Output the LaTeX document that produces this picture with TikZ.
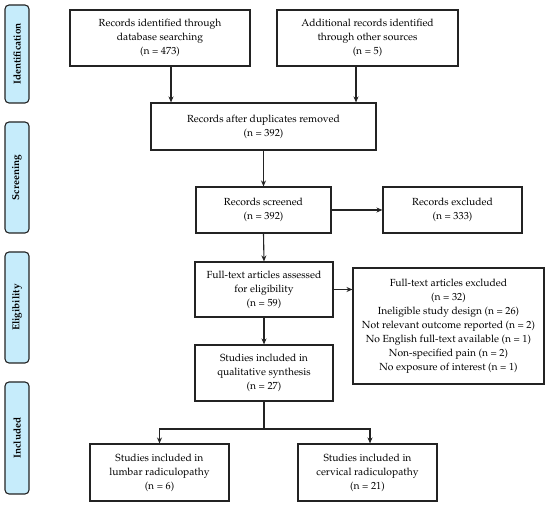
\documentclass[tikz,border=0pt]{standalone}
\usepackage[T1]{fontenc}
\usepackage{mathpazo}
\usetikzlibrary{arrows.meta,calc}
\definecolor{phase}{RGB}{198,236,251}
\definecolor{edge}{RGB}{35,35,35}
\tikzset{
  every picture/.style={x=1pt,y=-1pt},
  box/.style={draw=edge,line width=1.1pt,align=center,font=\fontsize{10.3}{14}\selectfont,inner sep=2pt},
  phasebox/.style={draw=edge,fill=phase,line width=1.1pt,rounded corners=4pt,minimum width=24pt,align=center,font=\fontsize{10}{12}\selectfont\bfseries},
  arr/.style={-{Stealth[length=6pt,width=5pt]},line width=1.1pt,draw=edge},
  ln/.style={line width=1.1pt,draw=edge}
}
\begin{document}
\begin{tikzpicture}
\useasboundingbox (0,0) rectangle (550,505);
% phase labels
\node[phasebox,minimum height=98pt] (pid) at (17,54) {\rotatebox{90}{Identification}};
\node[phasebox,minimum height=111pt] (psc) at (17,177.5) {\rotatebox{90}{Screening}};
\node[phasebox,minimum height=111pt] (pel) at (17,307.5) {\rotatebox{90}{Eligibility}};
\node[phasebox,minimum height=112pt] (pin) at (17,438) {\rotatebox{90}{Included}};
% boxes
\node[box,minimum width=180pt,minimum height=56pt] (b1) at (160,38) {Records identified through\\database searching\\(n = 473)};
\node[box,minimum width=181pt,minimum height=56pt] (b2) at (367.5,38) {Additional records identified\\through other sources\\(n = 5)};
\node[box,minimum width=225pt,minimum height=47pt] (b3) at (263.5,126.5) {Records after duplicates removed\\(n = 392)};
\node[box,minimum width=135pt,minimum height=46pt] (b4) at (263.5,210) {Records screened\\(n = 392)};
\node[box,minimum width=139pt,minimum height=46pt] (b5) at (452.5,210) {Records excluded\\(n = 333)};
\node[box,minimum width=138pt,minimum height=55pt] (b6) at (264,289.5) {Full-text articles assessed\\for eligibility\\(n = 59)};
\node[box,minimum width=191pt,minimum height=116pt] (b7) at (448.5,326) {Full-text articles excluded\\(n = 32)\\Ineligible study design (n = 26)\\Not relevant outcome reported (n = 2)\\No English full-text available (n = 1)\\Non-specified pain (n = 2)\\No exposure of interest (n = 1)};
\node[box,minimum width=138pt,minimum height=56pt] (b8) at (264,373) {Studies included in\\qualitative synthesis\\(n = 27)};
\node[box,minimum width=139pt,minimum height=57pt] (b9) at (159.5,472.5) {Studies included in\\lumbar radiculopathy\\(n = 6)};
\node[box,minimum width=139pt,minimum height=57pt] (b10) at (367.5,472.5) {Studies included in\\cervical radiculopathy\\(n = 21)};
% connectors
\draw[arr] ([xshift=11pt]b1.south) -- ([xshift=11pt]b1.south |- b3.north);
\draw[arr] ([xshift=-11.5pt]b2.south) -- ([xshift=-11.5pt]b2.south |- b3.north);
\draw[arr] (b3.south) -- (b4.north);
\draw[arr] (b4.east) -- (b5.west);
\draw[arr] (b4.south) -- (b6.north);
\draw[arr] (b6.east) -- (b6.east -| b7.west);
\draw[arr] (b6.south) -- (b8.north);
\coordinate (split) at (264,429);
\draw[ln] (b8.south) -- (split);
\draw[arr] (split) -| (b9.north);
\draw[arr] (split) -| ([xshift=2.5pt]b10.north);
\end{tikzpicture}
\end{document}
